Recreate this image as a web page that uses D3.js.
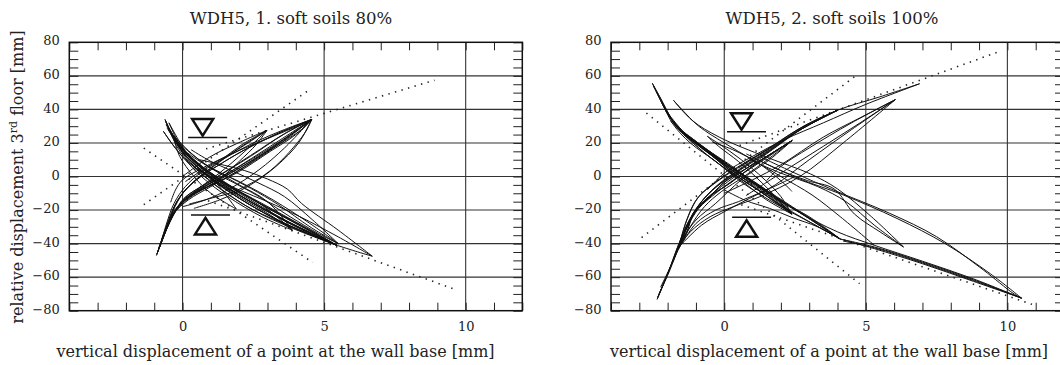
<!DOCTYPE html>
<html>
<head>
<meta charset="utf-8">
<script src="https://cdn.jsdelivr.net/npm/d3@7"></script>
<style>
  html, body { margin: 0; padding: 0; background: #fff; }
  svg { display: block; }
  text { font-family: "DejaVu Serif", "Liberation Serif", serif; fill: #222; }
</style>
</head>
<body>
<svg id="chart" width="1060" height="365"></svg>
<script>
// Axis ticks and labels
const xTickLabels = [0, 5, 10];
const yTickLabels = [-80, -60, -40, -20, 0, 20, 40, 60, 80];
const xGrid = [0, 5, 10];
const yGrid = [-60, -40, -20, 0, 20, 40, 60];
const xDomain = [-4, 12];
const yDomain = [-80, 80];
const xAxisTitle = "vertical displacement of a point at the wall base [mm]";

// Test 1: soft soils 80% — recorded hysteresis curves [base displacement, 3rd floor displacement]
const soil80Loops = [
  [[-0.62,34],[-0.30,23],[0.02,14],[0.85,1],[2.0,-13],[3.5,-27],[5.45,-41]],
  [[5.45,-41],[3.9,-31],[2.5,-20],[1.4,-8],[0.6,3],[0.0,14],[-0.35,24],[-0.62,34]],
  [[-0.48,32],[-0.15,22],[0.2,13],[1.0,1],[2.1,-12],[3.6,-26],[5.45,-41]],
  [[5.45,-41],[4.0,-30],[2.7,-18],[1.6,-7],[0.8,2],[0.2,12],[-0.2,22],[-0.48,32]],
  [[-0.68,27],[-0.35,19],[0.1,10],[0.9,0],[2.0,-12],[3.1,-23],[3.88,-32]],
  [[3.88,-32],[2.8,-24],[1.6,-12],[0.8,-2],[0.2,8],[-0.3,18],[-0.68,27]],
  [[-0.55,29],[-0.2,20],[0.3,11],[1.2,0],[2.5,-14],[3.9,-27],[5.45,-41]],
  [[-0.4,26],[0.0,16],[0.6,6],[1.5,-4],[2.8,-16],[4.2,-29],[5.45,-41]],
  [[-0.3,24],[0.3,14],[1.0,5],[2.0,-3],[3.2,-14],[4.5,-28],[5.5,-40]],
  [[0.3,16],[1.0,9],[1.8,3],[2.7,-4],[3.6,-12],[4.6,-26],[5.5,-40]],
  [[-0.3,22],[0.2,12],[0.8,3],[1.3,-6],[1.9,-19.4]],
  [[1.9,-19.4],[1.0,-10],[0.4,0],[-0.1,12],[-0.3,22]],
  [[0.6,10],[1.4,7],[2.2,3.5],[3.0,-1.5],[3.7,-7.5],[4.2,-16],[5.5,-32],[6.7,-47.5]],
  [[6.7,-47.5],[5.5,-36],[4.15,-24],[3.0,-15],[2.0,-8],[1.0,0]],
  [[5.45,-41],[6.1,-44.5],[6.7,-47.5]],
  [[-0.58,31],[-0.25,21],[0.15,12],[0.95,-1],[2.2,-15],[3.7,-29],[5.4,-40.5]],
  [[1.5,-1],[2.6,-11],[3.8,-24],[4.8,-34],[5.5,-40]],
  [[-0.6,33],[-0.28,22],[0.08,13],[0.9,0.5],[2.05,-13.5],[3.55,-27.5],[5.45,-41]],
  [[5.45,-41],[3.85,-30],[2.4,-19],[1.3,-7],[0.5,4],[-0.05,14],[-0.35,23],[-0.6,33]],
  [[-0.52,30],[-0.2,21],[0.25,12],[1.05,0],[2.3,-14],[3.8,-28],[5.45,-41]],
  [[-0.45,28],[-0.1,19],[0.4,10],[1.2,-1],[2.4,-14],[3.9,-28.5],[5.45,-41]],
  [[-0.35,25],[0.1,15],[0.7,6],[1.4,-3],[2.6,-15],[4.0,-28],[5.45,-41]],
  [[-0.2,20],[0.3,11],[1.0,2],[1.8,-7],[2.8,-17],[3.88,-32]],
  [[-0.25,22],[0.35,13],[1.1,4],[2.0,-5],[3.0,-15],[3.88,-32]],
  [[0.1,15],[0.7,8],[1.5,1],[2.4,-7],[3.4,-17],[4.5,-30],[5.5,-40]],
  [[-0.5,29],[-0.18,19],[0.3,9],[1.1,-2],[2.2,-13],[3.5,-25],[4.6,-34],[5.45,-41]],
  [[0.5,5],[1.3,-3],[2.3,-12],[3.4,-22],[4.5,-32],[5.45,-41]],
  [[-0.92,-47],[-0.6,-33],[-0.3,-22],[0.05,-13],[0.97,-3],[2.4,12],[3.56,25],[4.56,34]],
  [[4.56,34],[3.3,25],[2.1,15],[1.2,6],[0.5,-2],[0.0,-10],[-0.4,-22],[-0.7,-36],[-0.92,-47]],
  [[-0.8,-42],[-0.45,-27],[-0.1,-17],[0.6,-8],[1.8,4],[3.1,18],[4.56,34]],
  [[-0.65,-35],[-0.3,-22],[0.2,-14],[1.0,-6],[2.2,6],[3.4,20],[4.5,33]],
  [[-0.5,-28],[-0.1,-17],[0.5,-8],[1.3,2],[2.2,15],[2.98,27.5]],
  [[2.98,27.5],[2.0,17],[1.1,6],[0.4,-3],[-0.2,-15],[-0.5,-28]],
  [[-0.42,-15.4],[-0.25,-8],[0.0,-2],[0.7,5],[1.8,14],[3.2,24],[4.5,33]],
  [[0.24,-16.4],[1.0,-13],[1.9,-8.4],[3.1,3.5],[4.3,25.5],[4.56,34]],
  [[-0.75,-38],[-0.4,-24],[0.1,-13],[0.9,-5],[2.0,5],[3.2,17],[4.2,28],[4.56,34]],
  [[0.0,0],[0.95,11.5],[1.9,19.5],[2.98,27.5]],
  [[-0.88,-45],[-0.55,-30],[-0.2,-19],[0.3,-11],[1.3,-3],[2.6,10],[3.8,24],[4.56,34]],
  [[4.56,34],[3.6,28],[2.5,20],[1.5,11],[0.7,3],[0.1,-6],[-0.3,-16],[-0.6,-30],[-0.8,-42]],
  [[0.4,-19],[1.3,-14],[2.3,-6],[3.3,6],[4.1,20],[4.56,34]],
  [[-0.9,-46],[-0.58,-32],[-0.25,-21],[0.1,-12.5],[1.0,-2.5],[2.4,12.5],[3.6,25.5],[4.56,34]],
  [[4.56,34],[3.4,26],[2.2,16],[1.3,7],[0.55,-1],[0.05,-9],[-0.35,-21],[-0.65,-35],[-0.9,-46]],
  [[-0.85,-43],[-0.5,-28],[-0.15,-18],[0.45,-9],[1.5,1],[2.8,14],[3.9,26],[4.56,34]],
  [[-0.7,-37],[-0.35,-23],[0.15,-14],[0.8,-7],[1.9,2],[3.1,15],[4.0,25],[4.5,33]],
  [[-0.55,-30],[-0.2,-19],[0.35,-11],[1.2,-3],[2.0,9],[2.6,19],[2.98,27.5]],
  [[2.98,27.5],[2.1,19],[1.3,9],[0.6,0],[0.0,-10],[-0.3,-18],[-0.55,-30]],
  [[0.0,-18],[0.8,-14],[1.7,-7],[2.7,4],[3.6,17],[4.56,34]],
  [[0.1,-3],[0.9,6],[1.8,14.5],[2.98,27.5]],
  [[-0.6,-32],[-0.28,-20],[0.25,-12],[1.1,-4],[2.3,8],[3.5,21],[4.56,34]]
];

// Test 1: dotted reference lines
const soil80Guides = [
  [[-1.37,-16.8],[4.54,52.4]],
  [[0.83,16.5],[8.9,57.4]],
  [[-1.37,16.9],[4.6,-51.3]],
  [[0.9,-14.4],[9.61,-67.2]]
];

// Test 1: direction markers (line position in data units)
const soil80Markers = [
  { x: 0.71, y: 23.2, dir: "down" },
  { x: 0.81, y: -22.9, dir: "up" }
];

// Test 2: soft soils 100%
const soil100Loops = [
  [[-2.54,55.6],[-2.28,47.6],[-2.04,39.6],[-1.69,29.7],[-1.1,21.8],[-0.39,11.8],[0.32,1.9],[1.0,-6],[2.0,-15],[3.0,-24],[4.1,-37.3]],
  [[4.1,-37.3],[3.0,-27],[2.0,-18],[1.2,-10],[0.5,-2],[-0.3,9],[-1.2,20],[-1.8,31],[-2.15,42],[-2.54,55.6]],
  [[-2.2,44],[-1.7,30],[-1.0,21],[-0.2,10],[0.6,0],[1.6,-10],[2.39,-22.4]],
  [[2.39,-22.4],[1.5,-14],[0.8,-5],[0.0,5],[-0.9,17],[-1.6,28],[-2.2,44]],
  [[-1.9,33],[-1.2,22],[-0.4,12],[0.4,2],[1.3,-8],[2.39,-22.4]],
  [[-1.6,28],[-0.8,18],[0.2,6],[1.2,-6],[2.5,-20],[4.0,-33],[5.3,-41],[7.0,-50.5],[8.8,-61],[10.5,-72.5]],
  [[10.5,-72.5],[8.8,-62.5],[7.0,-52],[5.3,-43],[4.1,-37.3]],
  [[1.27,11.8],[2.5,2],[3.85,-8],[5.85,-22],[7.5,-35.9],[9.15,-55.7],[10.2,-69.6],[10.5,-72.5]],
  [[10.5,-72.5],[9.4,-58],[7.8,-40],[6.1,-25],[4.2,-11],[2.6,-1],[1.3,9]],
  [[0.78,13.5],[1.8,5],[2.93,-2.4],[3.88,-7.4],[4.6,-22.4],[5.5,-33],[6.33,-42]],
  [[6.33,-42],[5.3,-29],[4.3,-15],[3.3,-6],[2.0,2],[0.9,10]],
  [[-1.79,45.4],[-1.13,33.4],[-0.18,23.5],[1.5,11.5],[3.05,1.5],[4.0,-7.4],[5.2,-24],[6.33,-42]],
  [[-1.79,45.4],[-1.5,40],[-0.9,30],[0.0,20],[1.0,10],[2.0,0],[3.1,-11],[4.1,-24],[5.3,-41]],
  [[-0.42,20.5],[0.3,16],[1.2,8],[1.9,-1],[2.39,-8.8]],
  [[-1.4,25],[-0.6,15],[0.3,5],[1.3,-6],[2.4,-18],[3.3,-28],[4.1,-37.3]],
  [[-1.0,20],[-0.2,10],[0.7,0],[1.8,-12],[2.9,-24],[4.1,-37.3]],
  [[-2.1,40],[-1.5,27],[-0.7,17],[0.2,7],[1.0,-3],[1.9,-14],[2.39,-22.4]],
  [[-1.95,36],[-1.3,24],[-0.5,14],[0.5,3],[1.4,-7],[2.1,-16],[2.39,-22.4]],
  [[-0.6,24],[0.2,15],[0.9,6],[1.5,-3],[2.0,-12],[2.39,-22.4]],
  [[2.39,-22.4],[1.7,-10],[1.1,0],[0.5,9],[-0.2,18],[-0.6,24]],
  [[-2.5,54],[-2.2,45],[-1.95,37],[-1.6,28],[-1.0,20],[-0.3,10.5],[0.4,1],[1.1,-7],[1.8,-15],[2.39,-22.4]],
  [[2.39,-22.4],[1.6,-13],[0.9,-4],[0.1,6],[-0.8,17],[-1.5,27],[-1.95,36],[-2.3,47],[-2.5,54]],
  [[-2.0,38],[-1.4,26],[-0.6,16],[0.3,5],[1.2,-6],[1.9,-15],[2.39,-22.4]],
  [[-1.7,30],[-1.0,21],[-0.2,11],[0.7,0],[1.7,-11],[2.8,-23],[4.1,-37.3]],
  [[4.1,-37.3],[2.9,-26],[1.9,-16],[1.0,-6],[0.2,3],[-0.7,14],[-1.7,30]],
  [[0.0,-8],[0.77,-14.4],[1.6,-19],[2.39,-24.4],[3.3,-30],[4.1,-37.3]],
  [[4.1,-37.3],[5.3,-42],[7.0,-51],[8.8,-61.5],[10.5,-72.5]],
  [[10.5,-72.5],[8.8,-62],[7.0,-51.5],[5.3,-42.5],[4.2,-38.5]],
  [[-2.37,-73.2],[-2.04,-59.7],[-1.69,-45.8],[-1.33,-33.9],[-1.1,-21.9],[-0.62,-14],[-0.04,-4],[0.6,3],[1.5,12],[2.4,21.5]],
  [[2.4,21.5],[1.6,13],[0.9,5],[0.2,-4],[-0.6,-13],[-1.2,-25],[-1.6,-40],[-2.0,-58],[-2.37,-73.2]],
  [[-2.3,-70],[-1.95,-57],[-1.6,-42],[-1.2,-25],[-0.9,-17],[-0.4,-8],[0.4,2],[1.5,14],[2.6,27],[4.0,39.5]],
  [[4.0,39.5],[2.8,30],[1.7,18],[0.7,8],[-0.2,-2],[-0.9,-12],[-1.3,-25],[-1.6,-42]],
  [[0.5,5],[1.5,16],[2.6,28],[4.0,39.5],[5.5,47.5],[6.9,55.3]],
  [[6.9,55.3],[5.0,43],[3.5,32],[2.1,21.8],[1.0,12],[0.0,2],[-0.6,-8]],
  [[0.0,-10],[1.0,-2],[2.0,7],[3.5,23.5],[4.8,35],[6.04,45.8]],
  [[6.04,45.8],[4.5,32],[3.0,17],[2.0,6],[1.5,-2.4]],
  [[0.77,-11.4],[2.0,2],[3.5,18],[4.8,32],[6.04,45.8]],
  [[-1.6,-42],[-1.2,-33],[-0.5,-24],[0.32,-18],[1.26,-12],[2.67,0],[4.2,20],[6.04,45.8]],
  [[6.04,45.8],[4.5,28],[3.0,10],[1.8,-5],[0.9,-13],[0.0,-21],[-0.8,-29],[-1.6,-42]],
  [[-2.25,-66],[-1.85,-52],[-1.5,-38],[-1.0,-26],[-0.3,-16],[0.6,-2],[1.6,10],[2.4,21.5]],
  [[-1.7,-46],[-1.3,-30],[-0.9,-19],[-0.3,-10],[0.5,0],[1.4,10],[2.4,21.5]],
  [[-1.65,-44],[-1.25,-28],[-0.8,-16],[-0.1,-6],[0.8,5],[1.7,16],[2.8,29],[4.0,39.5]],
  [[-1.5,-40],[-1.0,-28],[-0.3,-20],[0.5,-15],[1.5,-8],[2.5,0]],
  [[-1.62,-43],[-1.22,-27],[-0.85,-16],[-0.35,-7],[0.45,3],[1.55,15],[2.65,27.5],[4.0,39.5]],
  [[4.0,39.5],[2.75,29],[1.65,17],[0.65,7],[-0.25,-3],[-0.95,-13],[-1.35,-27],[-1.62,-43]],
  [[-1.58,-41],[-1.15,-24],[-0.8,-15],[-0.3,-6],[0.5,4],[1.6,16],[2.7,28],[4.0,39.5]],
  [[-2.35,-72],[-2.0,-58],[-1.65,-44],[-1.3,-32],[-1.05,-21],[-0.55,-13],[0.0,-3.5],[0.65,3.5],[1.55,12.5],[2.4,21.5]],
  [[2.4,21.5],[1.65,13.5],[0.95,5.5],[0.25,-3.5],[-0.55,-12.5],[-1.15,-24],[-1.55,-38],[-1.95,-56],[-2.35,-72]],
  [[-1.6,-43],[-1.2,-30],[-0.7,-18],[-0.1,-9],[0.7,0],[1.6,11],[2.4,21.5]]
];

const soil100Guides = [
  [[-2.92,-36.4],[4.72,61]],
  [[0.54,18.5],[9.68,74.3]],
  [[-2.75,37.8],[4.78,-63.9]],
  [[0.6,-16.8],[10.87,-76.2]]
];

const soil100Markers = [
  { x: 0.61, y: 26.7, dir: "down" },
  { x: 0.79, y: -24.3, dir: "up" }
];

const panels = [
  { title: "WDH5, 1. soft soils 80%", loops: soil80Loops, guides: soil80Guides, markers: soil80Markers,
    left: 69.3, titleX: 291, xTitleX: 275.5, yLabel: true },
  { title: "WDH5, 2. soft soils 100%", loops: soil100Loops, guides: soil100Guides, markers: soil100Markers,
    left: 611, titleX: 832, xTitleX: 829, yLabel: false }
];

const plotW = 453, plotTop = 42.3, plotBottom = 310.7;
const svg = d3.select("#chart");

panels.forEach((p, i) => {
  const x = d3.scaleLinear().domain(xDomain).range([p.left, p.left + plotW]);
  const y = d3.scaleLinear().domain(yDomain).range([plotBottom, plotTop]);
  const g = svg.append("g");

  const clipId = "clip" + i;
  g.append("clipPath").attr("id", clipId).append("rect")
    .attr("x", p.left).attr("y", plotTop).attr("width", plotW).attr("height", plotBottom - plotTop);

  // grid
  g.append("g").selectAll("line").data(xGrid).join("line")
    .attr("x1", d => x(d)).attr("x2", d => x(d)).attr("y1", plotTop).attr("y2", plotBottom)
    .attr("stroke", "#333").attr("stroke-width", 1.1);
  g.append("g").selectAll("line").data(yGrid).join("line")
    .attr("y1", d => y(d)).attr("y2", d => y(d)).attr("x1", p.left).attr("x2", p.left + plotW)
    .attr("stroke", "#333").attr("stroke-width", 1.1);

  // inward minor ticks via axis generators
  const xMinor = d3.range(xDomain[0], xDomain[1] + 1, 1);
  const yMinor = d3.range(yDomain[0], yDomain[1] + 1, 5);
  const tickG = g.append("g");
  tickG.append("g").attr("transform", `translate(0,${plotBottom})`)
    .call(d3.axisTop(x).tickValues(xMinor).tickSize(8).tickFormat("")).call(a => a.select(".domain").remove());
  tickG.append("g").attr("transform", `translate(0,${plotTop})`)
    .call(d3.axisBottom(x).tickValues(xMinor).tickSize(8).tickFormat("")).call(a => a.select(".domain").remove());
  tickG.append("g").attr("transform", `translate(${p.left},0)`)
    .call(d3.axisRight(y).tickValues(yMinor).tickSize(9).tickFormat("")).call(a => a.select(".domain").remove());
  tickG.append("g").attr("transform", `translate(${p.left + plotW},0)`)
    .call(d3.axisLeft(y).tickValues(yMinor).tickSize(9).tickFormat("")).call(a => a.select(".domain").remove());
  tickG.selectAll(".tick line").attr("stroke", "#222").attr("stroke-width", 1);

  // tick labels
  g.append("g").attr("transform", `translate(0,${plotBottom})`)
    .call(d3.axisBottom(x).tickValues(xTickLabels).tickSize(0).tickPadding(0))
    .call(a => a.select(".domain").remove())
    .selectAll("text").attr("font-family", "DejaVu Serif").attr("font-size", 13).attr("fill", "#222")
    .attr("dy", null).attr("y", 20);
  g.append("g").attr("transform", `translate(${p.left},0)`)
    .call(d3.axisLeft(y).tickValues(yTickLabels).tickSize(0).tickPadding(9.5))
    .call(a => a.select(".domain").remove())
    .selectAll("text").attr("font-family", "DejaVu Serif").attr("font-size", 13).attr("fill", "#222")
    .attr("dy", "0.2em");

  // dotted guides
  const straight = d3.line().x(d => x(d[0])).y(d => y(d[1]));
  g.append("g").attr("clip-path", `url(#${clipId})`)
    .selectAll("path").data(p.guides).join("path")
    .attr("d", straight).attr("fill", "none").attr("stroke", "#222")
    .attr("stroke-width", 1.6).attr("stroke-dasharray", "1.4,5.4");

  // curves
  const curve = d3.line().x(d => x(d[0])).y(d => y(d[1])).curve(d3.curveCatmullRom.alpha(0.5));
  g.append("g").attr("clip-path", `url(#${clipId})`)
    .selectAll("path").data(p.loops).join("path")
    .attr("d", curve).attr("fill", "none").attr("stroke", "#111")
    .attr("stroke-width", 1.0).attr("stroke-linejoin", "round");

  // frame
  g.append("rect").attr("x", p.left).attr("y", plotTop).attr("width", plotW).attr("height", plotBottom - plotTop)
    .attr("fill", "none").attr("stroke", "#111").attr("stroke-width", 1.5);

  // direction markers
  p.markers.forEach(m => {
    const cx = x(m.x), ly = y(m.y);
    g.append("line").attr("x1", cx - 14.5).attr("x2", cx + 24.5).attr("y1", ly).attr("y2", ly)
      .attr("stroke", "#111").attr("stroke-width", 1.5);
    const tri = m.dir === "down"
      ? [[cx - 10.5, ly - 18.5], [cx + 10.5, ly - 18.5], [cx, ly - 2]]
      : [[cx - 10.5, ly + 19.5], [cx + 10.5, ly + 19.5], [cx, ly + 3]];
    g.append("path").attr("d", d3.line()(tri) + "Z").attr("fill", "none")
      .attr("stroke", "#111").attr("stroke-width", 2.5).attr("stroke-linejoin", "miter");
  });

  // titles
  g.append("text").attr("x", p.titleX).attr("y", 24).attr("text-anchor", "middle")
    .attr("font-size", 16.5).text(p.title);
  g.append("text").attr("x", p.xTitleX).attr("y", 357).attr("text-anchor", "middle")
    .attr("font-size", 16).text(xAxisTitle);

  if (p.yLabel) {
    const t = g.append("text").attr("transform", "translate(23,177) rotate(-90)")
      .attr("text-anchor", "middle").attr("font-size", 16);
    t.append("tspan").text("relative displacement 3");
    t.append("tspan").attr("font-size", 11).attr("baseline-shift", "super").text("rd");
    t.append("tspan").text(" floor [mm]");
  }
});
</script>
</body>
</html>
